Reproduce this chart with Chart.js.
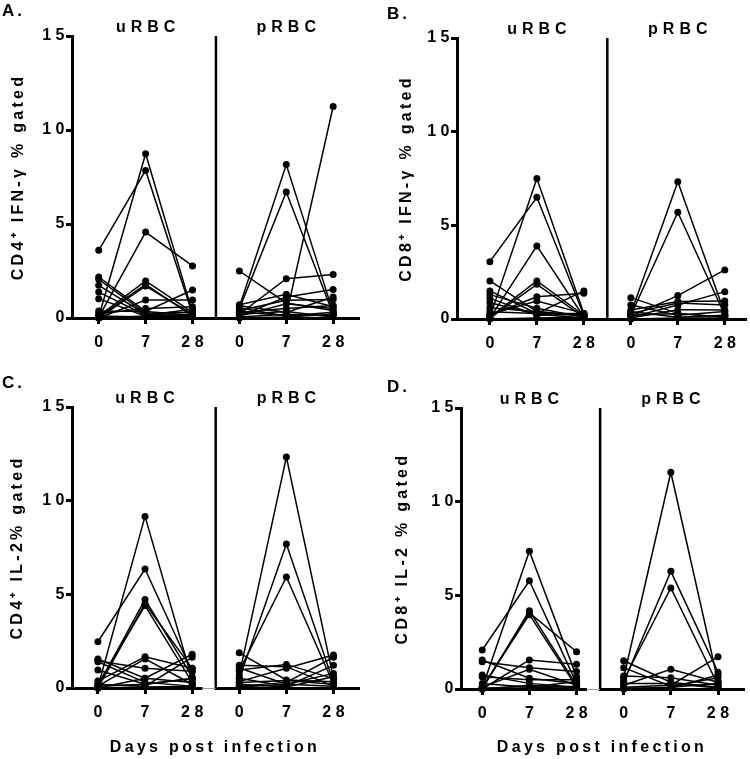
<!DOCTYPE html>
<html>
<head>
<meta charset="utf-8">
<script src="https://cdn.jsdelivr.net/npm/chart.js@4.4.0/dist/chart.umd.min.js"></script>
<style>
  html, body { margin: 0; padding: 0; background: #fff; }
  #wrap { position: relative; width: 750px; height: 759px; }
  canvas { position: absolute; }
</style>
</head>
<body>
<div id="wrap">
  <canvas id="chartA" width="375" height="375" style="left:0;top:0"></canvas>
  <canvas id="chartB" width="375" height="375" style="left:375px;top:0"></canvas>
  <canvas id="chartC" width="375" height="384" style="left:0;top:375px"></canvas>
  <canvas id="chartD" width="375" height="384" style="left:375px;top:375px"></canvas>
</div>
<script>
var dayLabels = ['0', '7', '28', '0', '7', '28'];
var dayTicks = [0, 1, 2, 3, 4, 5];
var groupLabels = ['uRBC', 'pRBC'];
var yTickValues = [0, 5, 10, 15];
var xTitle = 'Days post infection';
var yTitles = ['CD4⁺ IFN-γ % gated', 'CD8⁺ IFN-γ % gated', 'CD4⁺ IL-2% gated', 'CD8⁺ IL-2 % gated'];
var panelLetters = ['A.', 'B.', 'C.', 'D.'];

// one row per subject: % gated at day 0, 7, 28
var cd4IfnU = [
  [3.6, 7.85, 0.2], [0.05, 8.74, 0.3], [0.05, 4.57, 2.77], [2.18, 0.35, 0.15],
  [2.06, 0.25, 0.3], [1.74, 0.2, 0.1], [1.38, 0.15, 0.47], [1.03, 0.1, 0.2],
  [0.1, 1.97, 0.3], [0.05, 1.79, 0.1], [0.0, 1.7, 0.2], [0.0, 0.96, 0.96],
  [0.37, 0.35, 1.49], [0.23, 0.5, 0.6], [0.0, 0.1, 0.05], [0.1, 0.05, 0.1]
];
var cd4IfnP = [
  [0.6, 8.16, 0.3], [0.5, 6.7, 0.2], [0.3, 0.15, 11.25], [2.5, 0.8, 0.4],
  [0.2, 2.09, 2.32], [0.7, 1.26, 0.6], [0.1, 1.12, 1.51], [0.4, 0.94, 0.98],
  [0.65, 0.3, 1.12], [0.1, 0.76, 0.5], [0.3, 0.5, 0.67], [0.05, 0.2, 0.1],
  [0.55, 0.1, 0.3], [0.2, 0.35, 0.05], [0.0, 0.05, 0.2]
];
var cd8IfnU = [
  [3.06, 6.5, 0.2], [0.1, 7.5, 0.3], [0.05, 3.9, 0.1], [2.03, 0.4, 0.15],
  [1.5, 0.3, 0.3], [1.3, 0.57, 0.1], [1.1, 0.2, 0.25], [0.87, 0.25, 0.05],
  [0.1, 2.03, 0.2], [0.05, 1.85, 0.1], [0.2, 1.19, 1.37], [0.39, 0.3, 1.5],
  [0.25, 0.96, 0.3], [0.0, 0.05, 0.1], [0.6, 0.39, 0.2]
];
var cd8IfnP = [
  [0.3, 7.33, 0.3], [0.2, 5.7, 0.2], [0.15, 1.25, 2.62], [1.14, 0.3, 0.1],
  [0.75, 0.2, 0.4], [0.48, 0.93, 0.96], [0.1, 0.75, 1.46], [0.3, 0.85, 0.75],
  [0.05, 0.5, 0.48], [0.4, 0.1, 0.2], [0.0, 0.05, 0.05], [0.2, 0.3, 0.1]
];
var cd4Il2U = [
  [2.47, 6.35, 0.87], [0.05, 9.16, 0.45], [0.1, 4.72, 0.6], [0.0, 4.5, 1.05],
  [0.2, 4.4, 0.3], [1.55, 0.52, 0.3], [1.44, 1.05, 0.9], [1.4, 0.3, 0.1],
  [0.96, 0.2, 0.5], [0.37, 1.67, 1.05], [0.1, 1.55, 0.2], [0.0, 0.52, 1.8],
  [0.2, 0.1, 1.64], [0.0, 0.05, 0.1], [0.1, 0.2, 0.52]
];
var cd4Il2P = [
  [0.7, 12.33, 0.5], [0.5, 7.69, 0.3], [0.9, 5.93, 0.2], [1.88, 0.43, 0.34],
  [1.21, 1.14, 0.1], [1.07, 0.2, 0.78], [0.96, 1.26, 0.5], [0.34, 1.05, 1.76],
  [0.1, 0.3, 1.64], [0.52, 0.1, 1.21], [0.2, 0.05, 0.6], [0.05, 0.2, 0.1],
  [0.3, 0.4, 0.2]
];
var cd8Il2U = [
  [2.08, 5.78, 0.3], [0.05, 7.35, 0.66], [0.0, 4.18, 0.2], [0.05, 4.06, 1.99],
  [0.1, 3.97, 0.1], [1.55, 0.57, 0.3], [1.46, 1.14, 0.93], [0.75, 0.3, 0.1],
  [0.66, 0.5, 0.5], [0.0, 1.55, 1.32], [0.1, 1.05, 0.2], [0.0, 0.2, 0.05],
  [0.3, 0.1, 0.4], [0.05, 0.05, 0.15]
];
var cd8Il2P = [
  [0.6, 11.57, 0.4], [0.36, 6.28, 0.9], [0.48, 5.39, 0.2], [1.51, 0.36, 0.1],
  [1.14, 0.15, 0.6], [0.2, 1.05, 0.36], [0.1, 0.2, 1.72], [0.7, 0.6, 0.2],
  [0.05, 0.05, 0.75], [0.3, 0.3, 0.05], [0.0, 0.1, 0.3]
];

// layout of each panel (canvas pixels)
var panels = [
  {id: 'chartA', u: cd4IfnU, p: cd4IfnP, w: 375, h: 375, left: 72, right: 358, top: 36, bottom: 318,
   xmin: -0.57, xmax: 5.53, titlePad: 9, letterX: 2, letterY: 16, gap: false, showX: false},
  {id: 'chartB', u: cd8IfnU, p: cd8IfnP, w: 375, h: 375, left: 82, right: 370, top: 38, bottom: 319,
   xmin: -0.70, xmax: 5.43, titlePad: 21.5, letterX: 12, letterY: 19, gap: false, showX: false},
  {id: 'chartC', u: cd4Il2U, p: cd4Il2P, w: 375, h: 384, left: 72, right: 358, top: 32, bottom: 313,
   xmin: -0.55, xmax: 5.52, titlePad: 8, letterX: 2, letterY: 13, gap: true, showX: true},
  {id: 'chartD', u: cd8Il2U, p: cd8Il2P, w: 375, h: 384, left: 86, right: 368, top: 33, bottom: 314,
   xmin: -0.45, xmax: 5.53, titlePad: 18, letterX: 12, letterY: 17, gap: true, showX: true}
];

var FONT = '"Liberation Sans", Arial, sans-serif';
Chart.defaults.font.family = FONT;
Chart.defaults.font.size = 16;
Chart.defaults.font.weight = 'bold';
Chart.defaults.color = '#000';

var TICK_SPACING = 4.5;

/** divider, group names, panel letter, and the wide Prism-like letter spacing */
var panelDecor = {
  id: 'panelDecor',
  beforeDraw: function (chart) {
    chart.ctx.letterSpacing = TICK_SPACING + 'px';
    ['x', 'y'].forEach(function (k) {
      var s = chart.scales[k];
      if (s._spaced) return;
      var orig = s.drawTitle;
      s.drawTitle = function () {
        var c = this.ctx, old = c.letterSpacing;
        c.letterSpacing = '3.3px';
        orig.apply(this, arguments);
        c.letterSpacing = old;
      };
      s._spaced = true;
    });
  },
  afterDraw: function (chart, args, opts) {
    var ctx = chart.ctx, x = chart.scales.x, a = chart.chartArea;
    var mid = x.getPixelForValue(2.5);
    ctx.save();
    ctx.strokeStyle = '#000';
    ctx.lineWidth = 2.5;
    ctx.beginPath();
    ctx.moveTo(mid, a.top);
    ctx.lineTo(mid, a.bottom);
    ctx.stroke();

    if (opts.gap) {
      var g0 = x.getPixelForValue(2.22);
      ctx.fillStyle = '#fff';
      ctx.fillRect(g0, a.bottom - 3, mid - 1.3 - g0, 6);
      ctx.strokeStyle = '#9a9a9a';
      ctx.lineWidth = 1;
      ctx.beginPath();
      ctx.moveTo(g0, a.bottom + 0.5);
      ctx.lineTo(mid, a.bottom + 0.5);
      ctx.stroke();
    }

    ctx.fillStyle = '#000';
    ctx.font = 'bold 16px ' + FONT;
    ctx.letterSpacing = '5px';
    ctx.textBaseline = 'alphabetic';
    ctx.textAlign = 'center';
    groupLabels.forEach(function (g, i) {
      ctx.fillText(g, x.getPixelForValue(1 + 3 * i) + 2.5, a.top - 4);
    });
    ctx.textAlign = 'left';
    ctx.font = 'bold 17px ' + FONT;
    ctx.letterSpacing = '3px';
    ctx.fillText(opts.letter, opts.letterX, opts.letterY);
    ctx.restore();
  }
};

function subjectSets(rows, startX) {
  return rows.map(function (row) {
    return {
      data: row.map(function (v, i) { return {x: startX + i, y: v}; }),
      borderColor: '#000',
      backgroundColor: '#000',
      borderWidth: 1.5,
      pointRadius: 3.5,
      pointBorderWidth: 0,
      clip: false,
      tension: 0
    };
  });
}

var axisGrid = {drawOnChartArea: false, drawTicks: true, tickLength: 6, color: '#000', lineWidth: 3};
var axisBorder = {display: true, color: '#000', width: 3};

panels.forEach(function (p, n) {
  new Chart(document.getElementById(p.id), {
    type: 'line',
    data: {datasets: subjectSets(p.u, 0).concat(subjectSets(p.p, 3))},
    options: {
      responsive: false,
      animation: false,
      devicePixelRatio: 1,
      layout: {padding: {left: 0, top: p.top, right: p.w - p.right, bottom: 0}},
      plugins: {
        legend: {display: false},
        tooltip: {enabled: false},
        panelDecor: {letter: panelLetters[n], letterX: p.letterX, letterY: p.letterY, gap: p.gap}
      },
      scales: {
        x: {
          type: 'linear',
          min: p.xmin,
          max: p.xmax,
          afterBuildTicks: function (s) { s.ticks = dayTicks.map(function (v) { return {value: v}; }); },
          afterFit: function (s) { s.height = p.h - p.bottom; },
          ticks: {
            autoSkip: false,
            maxRotation: 0,
            padding: 9,
            labelOffset: TICK_SPACING / 2,
            callback: function (v, i) { return dayLabels[i]; }
          },
          grid: axisGrid,
          border: axisBorder,
          title: {display: p.showX, text: xTitle, padding: {top: 0, bottom: 2}}
        },
        y: {
          min: 0,
          max: 15,
          afterBuildTicks: function (s) { s.ticks = yTickValues.map(function (v) { return {value: v}; }); },
          afterFit: function (s) { s.width = p.left; },
          ticks: {padding: -3},
          grid: axisGrid,
          border: axisBorder,
          title: {display: true, text: yTitles[n], padding: {top: p.titlePad, bottom: 0}}
        }
      }
    },
    plugins: [panelDecor]
  });
});
</script>
</body>
</html>
